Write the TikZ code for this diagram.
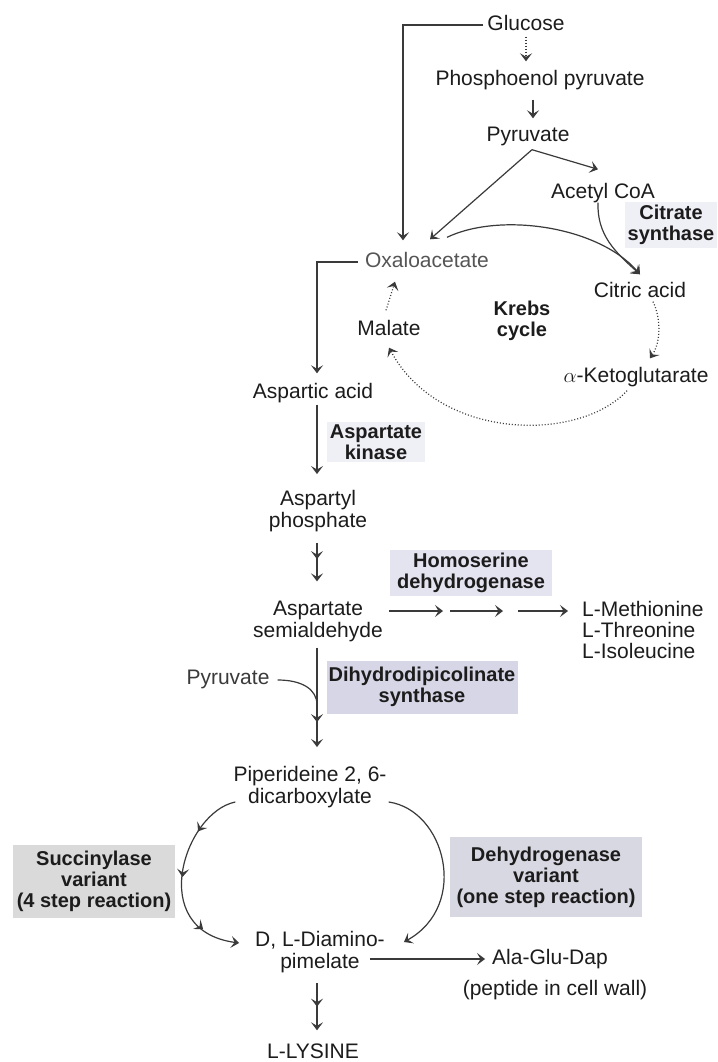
\documentclass[tikz,border=0pt]{standalone}
\usepackage{fontspec}
\setmainfont{Liberation Sans}
\usetikzlibrary{arrows.meta,decorations.markings,calc}
\definecolor{txt}{HTML}{1C1C1C}
\definecolor{ln}{HTML}{3A3A3A}
\definecolor{oxc}{HTML}{555555}
\definecolor{boxa}{HTML}{E4E4F0}
\definecolor{boxb}{HTML}{D6D6E6}
\definecolor{boxc}{HTML}{DADADA}
\definecolor{boxd}{HTML}{D8D8E2}
\definecolor{boxe}{HTML}{EFEFF6}
\tikzset{mytip/.tip={Stealth[length=8pt,width=12pt,inset=3.5pt]}}
\begin{document}
\begin{tikzpicture}[x=1pt,y=-1pt,
  lbl/.style={font=\fontsize{21}{22}\selectfont, text=txt, inner sep=0pt, text height=15pt, text depth=4pt},
  lbltwo/.style={font=\fontsize{21}{22}\selectfont, text=txt, inner sep=0pt, align=center},
  enz/.style={font=\bfseries\fontsize{20}{21}\selectfont, text=txt, inner sep=0pt, align=center},
  conn/.style={draw=ln, line width=1.2pt},
  arr/.style={conn, -mytip},
  dots/.style={conn, dash pattern=on 1pt off 2pt, -mytip},
  midarrow/.style={postaction={decorate, decoration={markings, mark=at position #1 with {\arrow{mytip}}}}},
]
\fill[white] (0,0) rectangle (717,1062);
\useasboundingbox (0,0) rectangle (717,1062);

% ---------- nodes ----------
\node[lbl] (glu) at (526,25) {Glucose};
\node[lbl] (pep) at (540,80) {Phosphoenol pyruvate};
\node[lbl] (pyr) at (528,136) {Pyruvate};
\node[lbl] (aco) at (603,193) {Acetyl CoA};
\node[enz, fill=boxe, inner sep=3pt] (cs) at (671,225) {Citrate\\synthase};
\node[lbl, text=oxc] (oxa) at (427,262) {Oxaloacetate};
\node[lbl] (cit) at (640,292) {Citric acid};
\node[enz] (krebs) at (522,321) {Krebs\\cycle};
\node[lbl] (mal) at (389,330) {Malate};
\node[lbl] (akg) at (636,377) {$\alpha$-Ketoglutarate};
\node[lbl] (asp) at (313,393) {Aspartic acid};
\node[enz, fill=boxe, inner sep=3pt] (ak) at (376,442) {Aspartate\\kinase};
\node[lbltwo] (aph) at (318,511) {Aspartyl\\phosphate};
\node[enz, fill=boxa, minimum width=162, minimum height=46] (hsd) at (471,573) {Homoserine\\dehydrogenase};
\node[lbltwo] (asemi) at (318,621) {Aspartate\\semialdehyde};
\node[lbl, anchor=west] (met) at (582,611) {L-Methionine};
\node[lbl, anchor=west] (thr) at (582,632) {L-Threonine};
\node[lbl, anchor=west] (ile) at (582,653) {L-Isoleucine};
\node[lbl, text=ln] (pyrb) at (228,679) {Pyruvate};
\node[enz, fill=boxb, minimum width=191, minimum height=53] (dhps) at (422,687) {Dihydrodipicolinate\\synthase};
\node[lbltwo] (pip) at (310,787) {Piperideine 2, 6-\\dicarboxylate};
\node[enz, fill=boxc, minimum width=162, minimum height=73] (suc) at (94,881) {Succinylase\\variant\\(4 step reaction)};
\node[enz, fill=boxd, minimum width=192, minimum height=80] (dhv) at (546,877) {Dehydrogenase\\variant\\(one step reaction)};
\node[lbltwo] (dl) at (320,952) {D, L-Diamino-\\pimelate};
\node[lbl] (ala) at (550,959) {Ala-Glu-Dap};
\node[lbl] (ppt) at (555,990) {(peptide in cell wall)};
\node[lbl] (lys) at (313,1053) {L-LYSINE};

\coordinate (axis) at (317,0);
\coordinate (join) at (317,705);
\coordinate (h1) at (443,611);
\coordinate (h2) at (450,611);
\coordinate (h3) at (503,611);
\coordinate (h4) at (518,611);

% ---------- connectors ----------
\draw[arr, shorten <=4pt, shorten >=12pt] (glu.west) -| ([xshift=-24pt]oxa.north);
\draw[dots, shorten <=2pt, shorten >=9pt] (glu.south) -- (glu.south |- pep.north);
\draw[arr, shorten <=10pt, shorten >=8pt] ([xshift=-7pt]pep.south) -- ([xshift=-7pt]pep.south |- pyr.north);
\draw[arr] ([xshift=4pt,yshift=-4pt]pyr.south) -- ([xshift=-5pt,yshift=14pt]aco.north);
\draw[arr] ([xshift=4pt,yshift=-4pt]pyr.south) -- ([xshift=3pt,yshift=13pt]oxa.north);
\draw[arr] ([xshift=20pt,yshift=15pt]oxa.north) .. controls (500,212) and (598,226) .. ([yshift=8pt]cit.north);
\draw[arr] ([xshift=-5pt]aco.south) .. controls (597,235) and (615,252) .. ([yshift=8pt]cit.north);
\draw[arr, shorten <=7pt, shorten >=10pt] (oxa.west) -| (asp.north -| axis);

% Krebs cycle
\draw[dots] ([xshift=13pt]cit.south) .. controls (661,318) and (661,342) .. ([xshift=14pt,yshift=9pt]akg.north);
\draw[dots] ([xshift=-9pt,yshift=-4pt]akg.south) .. controls (580,442) and (440,442) .. ([yshift=-8pt]mal.south);
\draw[dots] ([xshift=-3pt,yshift=10pt]mal.north) -- ([xshift=-32pt,yshift=-10pt]oxa.south);

% main chain
\draw[arr] ($(asp.south -| axis)+(0,2)$) -- ($(aph.north -| axis)+(0,-16)$);
\draw[arr, midarrow=0.42] ($(aph.south -| axis)+(0,11)$) -- ($(asemi.north -| axis)+(0,-19)$);
\draw[arr] ($(asemi.east)+(6,-10)$) -- (h1);
\draw[arr] (h2) -- (h3);
\draw[arr, shorten >=14pt] (h4) -- (met.west);
\draw[arr, midarrow=0.75] ($(asemi.south -| axis)+(0,6)$) -- ($(pip.north -| axis)+(0,-19)$);
\draw[conn] ($(pyrb.east)+(8,1)$) .. controls +(24,0) and +(0,-16) .. (join);

% lysine branches
\draw[arr, midarrow=0.25, midarrow=0.5, midarrow=0.8] ($(pip.south west)+(2,-6)$) .. controls (185,812) and (145,930) .. ($(dl.west)+(-16,-9)$);
\draw[arr] ($(pip.south east)+(2,-6)$) .. controls (445,810) and (470,905) .. ($(dl.east)+(19,-10)$);
\draw[arr] ($(dl.east)+(-15,7)$) -- ($(ala.west)+(-7,0)$);
\draw[arr, midarrow=0.5] ($(dl.south -| axis)+(0,10)$) -- ($(lys.north -| axis)+(0,-13)$);
\end{tikzpicture}
\end{document}
